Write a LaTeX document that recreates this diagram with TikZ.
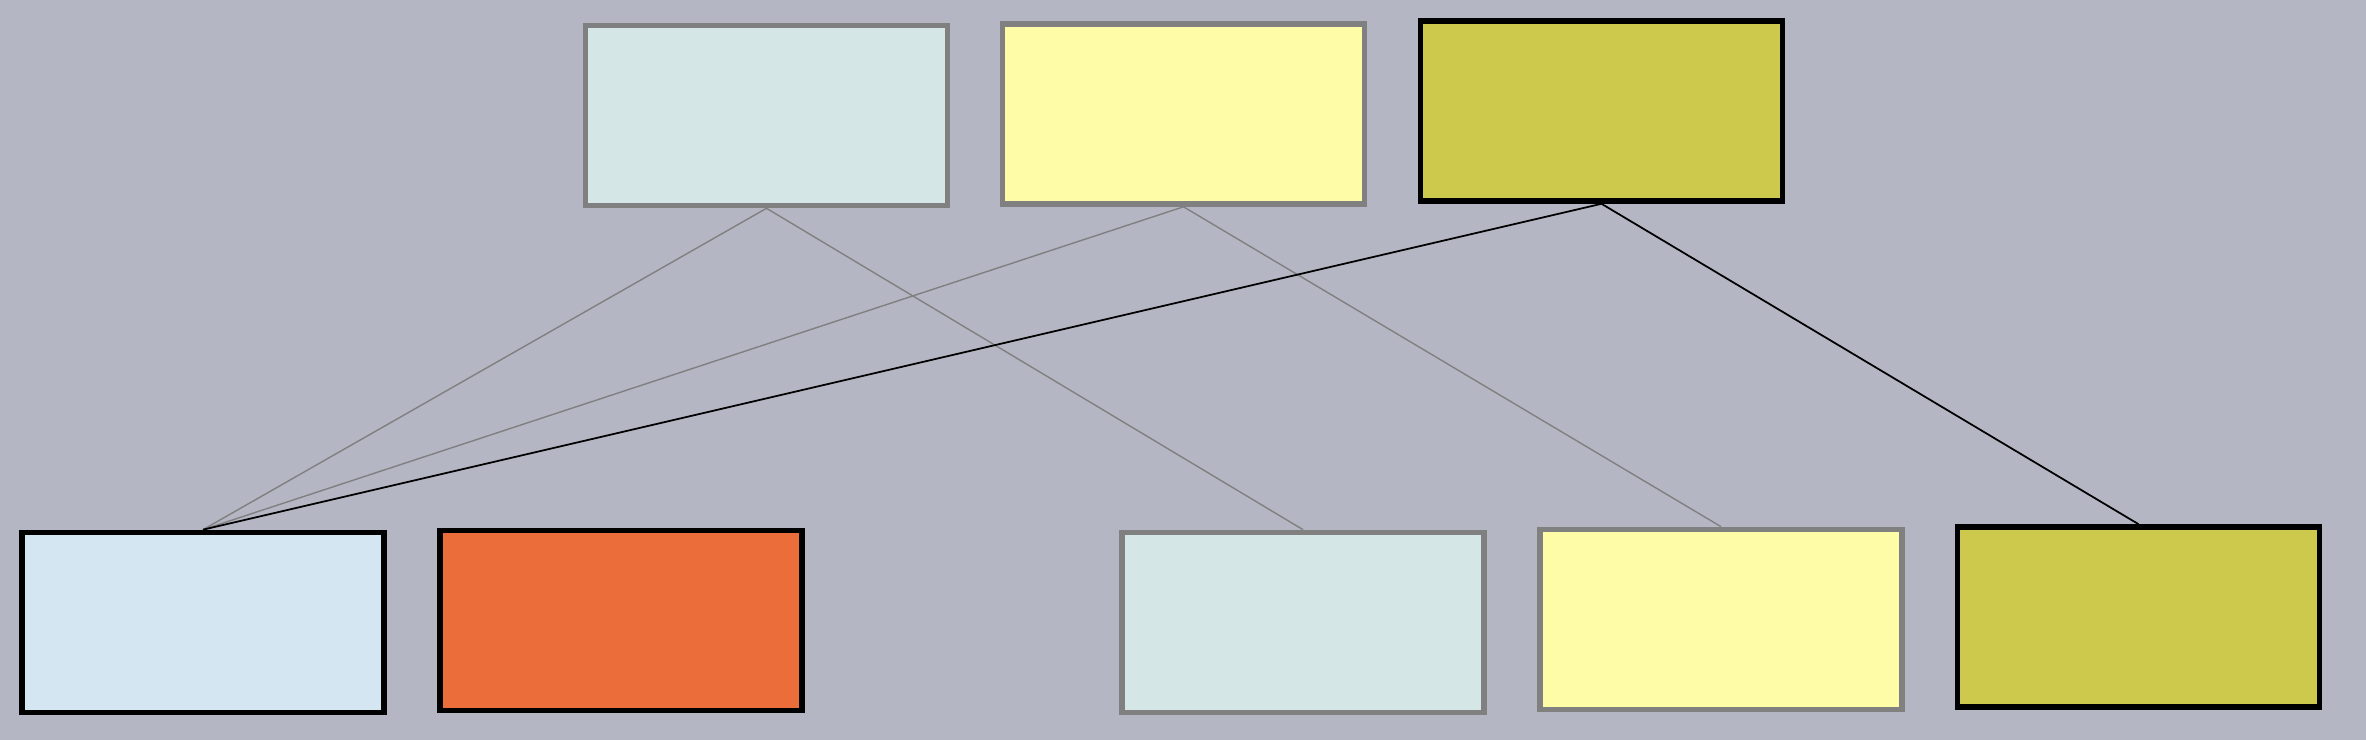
\documentclass[tikz,border=0pt]{standalone}
\usepackage{tikz}
\usetikzlibrary{calc}
\definecolor{bggray}{HTML}{B4B6C4}
\definecolor{paleteal}{HTML}{D4E6E6}
\definecolor{paleyellow}{HTML}{FFFCA8}
\definecolor{olive}{HTML}{CCC94C}
\definecolor{paleblue}{HTML}{D4E6F1}
\definecolor{burnt}{HTML}{EB6D39}
\definecolor{rimgray}{HTML}{808080}
\begin{document}
\begin{tikzpicture}
\tikzstyle{block}=[rectangle,minimum width=3.62cm,minimum height=1.8cm,inner sep=0pt,line width=1.6pt]
\fill[bggray] (0,0) rectangle (23.66,7.4);
\useasboundingbox (0,0) rectangle (23.66,7.4);
\foreach \name/\point/\col/\rim in {
	t1/{7.665,6.245}/paleteal/rimgray,
	t2/{11.835,6.26}/paleyellow/rimgray,
	t3/{16.015,6.29}/olive/black,
	b1/{2.03,1.175}/paleblue/black,
	b2/{6.21,1.195}/burnt/black,
	b3/{13.03,1.175}/paleteal/rimgray,
	b4/{17.21,1.205}/paleyellow/rimgray,
	b5/{21.385,1.23}/olive/black}
	\node[block,fill=\col,draw=\rim] (\name) at (\point) {};
\draw[rimgray,line width=0.4pt] (t1.south) -- (b1.north);
\draw[rimgray,line width=0.4pt] (t1.south) -- (b3.north);
\draw[rimgray,line width=0.4pt] (t2.south) -- (b1.north);
\draw[rimgray,line width=0.4pt] (t2.south) -- (b4.north);
\draw[black,line width=0.5pt] (t3.south) -- (b1.north);
\draw[black,line width=0.5pt] (t3.south) -- (b5.north);
\end{tikzpicture}
\end{document}
